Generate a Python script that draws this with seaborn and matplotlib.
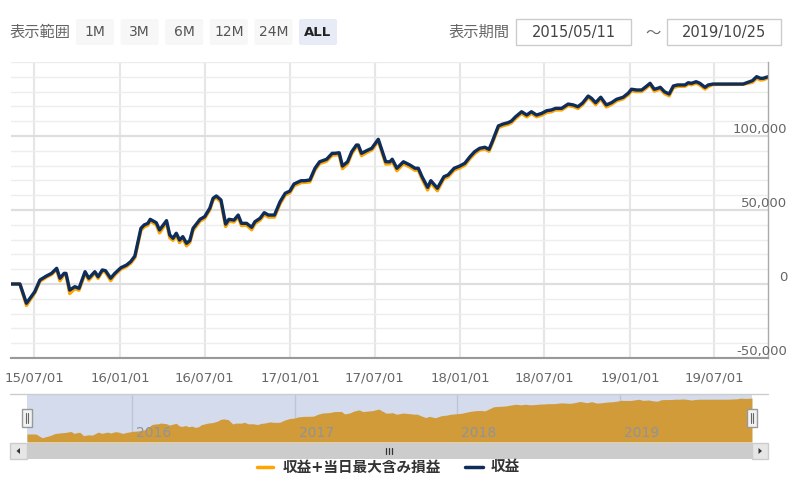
import numpy as np
import pandas as pd
import matplotlib
matplotlib.use('Agg')
import matplotlib.pyplot as plt
import matplotlib.dates as mdates
import matplotlib.transforms as mtransforms
from matplotlib.patches import FancyBboxPatch, Rectangle, Polygon
import seaborn as sns

# ---- data ----
dates = [
    '2015-05-11', '2015-05-31', '2015-06-14', '2015-07-02', '2015-07-13', '2015-07-27', '2015-08-07', '2015-08-18', '2015-08-25', '2015-09-03',
    '2015-09-07', '2015-09-15', '2015-09-26', '2015-10-05', '2015-10-18', '2015-10-26', '2015-11-08', '2015-11-15', '2015-11-24', '2015-12-01',
    '2015-12-12', '2015-12-21', '2016-01-03', '2016-01-15', '2016-01-24', '2016-02-02', '2016-02-15', '2016-02-22', '2016-03-01', '2016-03-06',
    '2016-03-19', '2016-03-26', '2016-04-10', '2016-04-17', '2016-04-24', '2016-05-01', '2016-05-08', '2016-05-15', '2016-05-23', '2016-05-30',
    '2016-06-06', '2016-06-21', '2016-07-01', '2016-07-12', '2016-07-19', '2016-07-26', '2016-08-05', '2016-08-15', '2016-08-22', '2016-09-02',
    '2016-09-11', '2016-09-18', '2016-09-29', '2016-10-10', '2016-10-17', '2016-10-28', '2016-11-06', '2016-11-15', '2016-11-28', '2016-12-10',
    '2016-12-21', '2016-12-31', '2017-01-09', '2017-01-24', '2017-02-01', '2017-02-12', '2017-02-23', '2017-03-05', '2017-03-20', '2017-04-01',
    '2017-04-07', '2017-04-16', '2017-04-23', '2017-05-04', '2017-05-13', '2017-05-23', '2017-05-27', '2017-06-03', '2017-06-14', '2017-06-25',
    '2017-07-09', '2017-07-25', '2017-08-03', '2017-08-08', '2017-08-18', '2017-09-01', '2017-09-15', '2017-09-26', '2017-10-03', '2017-10-11',
    '2017-10-23', '2017-10-30', '2017-11-13', '2017-11-27', '2017-12-06', '2017-12-19', '2017-12-31', '2018-01-11', '2018-01-22', '2018-02-01',
    '2018-02-12', '2018-02-23', '2018-03-04', '2018-03-11', '2018-03-24', '2018-04-03', '2018-04-14', '2018-04-21', '2018-04-30', '2018-05-13',
    '2018-05-24', '2018-06-03', '2018-06-14', '2018-06-25', '2018-07-06', '2018-07-16', '2018-07-25', '2018-08-07', '2018-08-21', '2018-09-01',
    '2018-09-11', '2018-09-21', '2018-10-03', '2018-10-10', '2018-10-19', '2018-10-30', '2018-11-11', '2018-11-22', '2018-12-03', '2018-12-17',
    '2018-12-28', '2019-01-04', '2019-01-15', '2019-01-26', '2019-02-04', '2019-02-13', '2019-02-22', '2019-03-01', '2019-03-07', '2019-03-16',
    '2019-03-26', '2019-04-04', '2019-04-13', '2019-04-29', '2019-05-06', '2019-05-13', '2019-05-23', '2019-05-31', '2019-06-11', '2019-06-18',
    '2019-06-28', '2019-09-01', '2019-09-15', '2019-09-21', '2019-09-30', '2019-10-08', '2019-10-14', '2019-10-25',
]

# 収益
profit = [
    0, 0, -13000, -5200, 2700, 5400, 7200, 10600, 3900, 7200,
    7200, -4100, -1800, -2900, 8300, 3900, 8300, 4900, 9500, 9000,
    3900, 7200, 11000, 12800, 15100, 18900, 37600, 39900, 41000, 43700,
    41400, 36500, 42800, 33100, 30900, 34300, 29700, 32000, 27500, 29300,
    37600, 43700, 45500, 51200, 57900, 59500, 56800, 40500, 43700, 43200,
    46600, 41000, 41000, 38300, 42100, 44400, 48200, 46600, 46600, 55600,
    61300, 62800, 67600, 69800, 69800, 70300, 78200, 82600, 84300, 88300,
    88300, 88700, 79700, 82600, 89400, 93900, 93900, 88300, 90100, 91700,
    97800, 82600, 82600, 84300, 78200, 82600, 80400, 78200, 78200, 72500,
    65300, 69800, 64700, 72500, 73700, 78200, 79700, 81600, 86000, 89400,
    91700, 92400, 91000, 96200, 106800, 108100, 109000, 110100, 113000, 116400,
    114200, 116400, 114200, 115300, 117100, 117600, 118700, 118700, 121600, 121000,
    119800, 122300, 127000, 125500, 122500, 126200, 121000, 122500, 124800, 126200,
    128900, 131600, 131100, 131100, 133300, 135600, 131600, 132200, 132900, 129900,
    128400, 133800, 134500, 134500, 136000, 135600, 136700, 135600, 132900, 134500,
    135100, 135100, 136700, 137400, 140100, 139000, 139000, 140100,
]

# 収益+当日最大含み損益
profit_max_loss = [
    0, 0, -14500, -6000, 1800, 4600, 6400, 9800, 2200, 6300,
    6400, -6500, -3200, -4200, 7300, 2600, 7300, 3800, 8600, 8000,
    2300, 6200, 10000, 11800, 14000, 17700, 36200, 38600, 39700, 42500,
    40000, 34500, 41500, 31200, 29500, 33000, 28000, 30600, 25800, 28000,
    36200, 42400, 44300, 50000, 56800, 58300, 55400, 38800, 42400, 41900,
    45400, 39500, 39700, 36600, 40800, 43100, 46900, 45200, 45200, 54200,
    60000, 61500, 66300, 68500, 68600, 69000, 77000, 81300, 83000, 87000,
    87100, 87400, 77900, 81200, 88100, 92700, 92600, 86700, 88800, 90500,
    96600, 81000, 81200, 83000, 76500, 81200, 79000, 76800, 76900, 71000,
    63500, 68400, 63000, 71200, 72400, 76900, 78400, 80300, 84700, 88100,
    90500, 91200, 89700, 95000, 105600, 106900, 107800, 108900, 111800, 115200,
    112900, 115200, 113000, 114100, 115900, 116400, 117600, 117600, 120500, 119900,
    118600, 121200, 125900, 124300, 121200, 125100, 119600, 121300, 123700, 125100,
    127800, 130500, 130000, 130100, 132200, 134600, 130300, 131100, 131800, 128700,
    127100, 132700, 133500, 133600, 135000, 134600, 135700, 134500, 131700, 133400,
    134800, 134900, 135900, 136300, 139100, 137800, 138000, 139300,
]

series_names = ['収益+当日最大含み損益', '収益']
series_colors = ['#ffa500', '#0f2d5a']
x_ticks = ['2015-07-01', '2016-01-01', '2016-07-01', '2017-01-01', '2017-07-01',
           '2018-01-01', '2018-07-01', '2019-01-01', '2019-07-01']
y_ticks = [-50000, 0, 50000, 100000]
nav_years = ['2016', '2017', '2018', '2019']
range_buttons = ['1M', '3M', '6M', '12M', '24M', 'ALL']
period = ['2015/05/11', '2019/10/25']

sns.set_style('white')
plt.rcParams['font.family'] = ['DejaVu Sans', 'Noto Sans CJK JP']

fig = plt.figure(figsize=(8, 4.87), dpi=100)
W, H = 800, 487

def box(x0, y0, x1, y1):
    return [x0 / W, 1 - y1 / H, (x1 - x0) / W, (y1 - y0) / H]

# ---- main chart ----
ax = fig.add_axes(box(10.6, 62, 768.3, 358))
n = len(dates)
df = pd.DataFrame({
    'date': pd.to_datetime(dates * 2),
    'value': profit_max_loss + profit,
    'series': [series_names[0]] * n + [series_names[1]] * n,
})
sns.lineplot(data=df, x='date', y='value', hue='series', hue_order=series_names,
             palette=dict(zip(series_names, series_colors)), estimator=None,
             linewidth=2.4, legend=False, ax=ax)

ax.set_xlim(pd.Timestamp(dates[0]), pd.Timestamp(dates[-1]))
ax.set_ylim(-50000, 150000)
ax.set_xticks(pd.to_datetime(x_ticks))
ax.xaxis.set_major_formatter(mdates.DateFormatter('%y/%m/%d'))
ax.set_yticks(y_ticks)
ax.set_yticks(np.arange(-50000, 150001, 10000), minor=True)
ax.grid(which='minor', axis='y', color='#ededed', lw=1)
ax.grid(which='major', axis='y', color='#dedede', lw=1.6)
ax.grid(which='major', axis='x', color='#e6e6e6', lw=1.5)
ax.tick_params(axis='y', which='both', left=False, right=False,
               labelleft=False, labelright=False)
ax.tick_params(axis='x', length=7.5, width=1, color='#999999',
               labelsize=9.5, labelcolor='#666666', pad=2)
ax.set_xlabel('')
ax.set_ylabel('')
for s in ['left', 'top']:
    ax.spines[s].set_visible(False)
ax.spines['right'].set_color('#aaaaaa')
ax.spines['right'].set_linewidth(1)
ax.spines['bottom'].set_color('#999999')
ax.spines['bottom'].set_linewidth(1.5)

ylab_trans = mtransforms.offset_copy(ax.get_yaxis_transform(), fig=fig, y=3, units='dots')
for v in y_ticks:
    ax.text(1.0247, v, f'{v:,}', transform=ylab_trans, ha='right', va='baseline',
            fontsize=9.5, color='#666666', clip_on=False)

# ---- navigator ----
nav = fig.add_axes(box(27, 394, 752, 442))
nav.set_facecolor('#d3dbec')
nav_dates = pd.to_datetime(dates)
nav.fill_between(nav_dates, profit_max_loss, -31000, color='#d19b3a', lw=0, zorder=2)
nav.set_xlim(nav_dates[0], nav_dates[-1])
nav.set_ylim(-31000, 155000)
year_starts = pd.to_datetime([y + '-01-01' for y in nav_years])
nav.set_xticks(year_starts)
nav.set_yticks([])
nav.grid(axis='x', color='#bdc6d8', lw=1, zorder=1)
nav.set_axisbelow(True)
nav.tick_params(axis='x', length=0, labelbottom=False)
for s in nav.spines.values():
    s.set_visible(False)
year_trans = mtransforms.offset_copy(nav.get_xaxis_transform(), fig=fig, x=4, units='dots')
for d, y in zip(year_starts, nav_years):
    nav.text(d, 0.19, y, transform=year_trans, ha='left', va='center',
             fontsize=10, color='#8e939c', zorder=3)

# ---- UI overlay (buttons, scrollbar, legend) ----
ui = fig.add_axes([0, 0, 1, 1], zorder=5)
ui.set_xlim(0, W)
ui.set_ylim(H, 0)
ui.axis('off')
ui.patch.set_alpha(0)

ui.text(10, 32, '表示範囲', ha='left', va='center', fontsize=11, color='#666666')
for i, lab in enumerate(range_buttons):
    x0 = 76 + i * 44.6
    active = lab == 'ALL'
    ui.add_patch(FancyBboxPatch((x0, 19), 38, 26, boxstyle='round,pad=0,rounding_size=2',
                                fc='#e6ebf5' if active else '#f7f7f7', ec='none'))
    ui.text(x0 + 19, 32.5, lab, ha='center', va='center', fontsize=9.5 if active else 10,
            color='#222222' if active else '#555555',
            fontweight='bold' if active else 'normal')

ui.text(449, 32, '表示期間', ha='left', va='center', fontsize=11, color='#666666')
for (x0, x1), txt in zip([(516, 631), (667, 781)], period):
    ui.add_patch(Rectangle((x0, 19), x1 - x0, 26, fc='white', ec='#cccccc', lw=1))
    ui.text((x0 + x1) / 2, 32.5, txt, ha='center', va='center', fontsize=10.5, color='#444444')
ui.text(653, 33, '～', ha='center', va='center', fontsize=11, color='#666666')

# navigator outline + handles
ui.plot([10, 768], [394, 394], color='#cccccc', lw=1)
for hx in [22, 747]:
    ui.add_patch(Rectangle((hx, 409), 10, 18, fc='#f2f2f2', ec='#999999', lw=1))
    ui.plot([hx + 4, hx + 4], [413, 423], color='#666666', lw=0.8)
    ui.plot([hx + 6, hx + 6], [413, 423], color='#666666', lw=0.8)

# scrollbar
ui.add_patch(Rectangle((27, 443), 725, 16, fc='#cccccc', ec='none'))
ui.add_patch(Rectangle((10, 443), 17, 16, fc='#e6e6e6', ec='#cccccc', lw=1))
ui.add_patch(Rectangle((752, 443), 16, 16, fc='#e6e6e6', ec='#cccccc', lw=1))
ui.add_patch(Polygon([(16.5, 451), (20, 448), (20, 454)], closed=True, fc='#333333', ec='none'))
ui.add_patch(Polygon([(762, 451), (758.5, 448), (758.5, 454)], closed=True, fc='#333333', ec='none'))
for gx in [386, 389, 392]:
    ui.plot([gx, gx], [448, 454], color='#333333', lw=0.9)

# legend
ui.plot([257, 273], [467, 467], color=series_colors[0], lw=2.5)
ui.text(283, 467, series_names[0], ha='left', va='center', fontsize=10.5,
        fontweight='bold', color='#333333')
ui.plot([465, 483], [467, 467], color=series_colors[1], lw=2.5)
ui.text(491, 467, series_names[1], ha='left', va='center', fontsize=10.5,
        fontweight='bold', color='#333333')

fig.savefig('out.png', dpi=100)
